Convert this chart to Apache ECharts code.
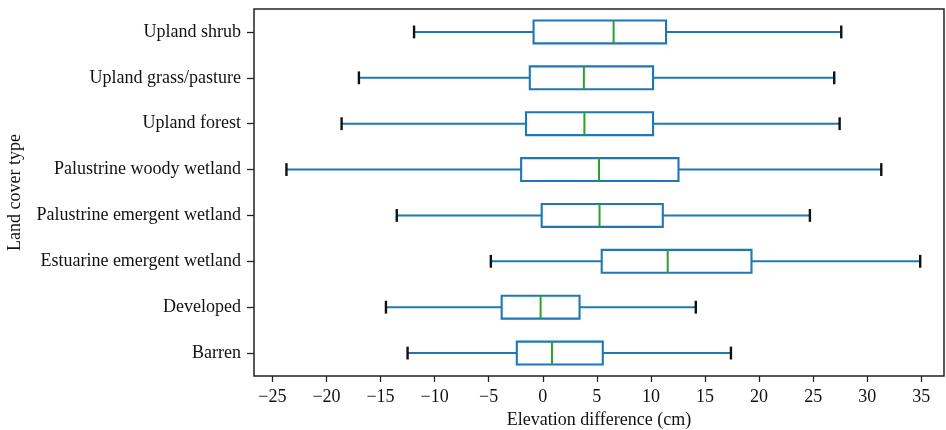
<!DOCTYPE html>
<html>
<head>
<meta charset="utf-8">
<script src="https://cdn.jsdelivr.net/npm/echarts@6/dist/echarts.min.js"></script>
<style>
  html, body { margin: 0; padding: 0; background: #fff; }
  #chart { width: 946px; height: 430px; }
</style>
</head>
<body>
<div id="chart"></div>
<script>
// categories, bottom to top
const categories = ['Barren', 'Developed', 'Estuarine emergent wetland', 'Palustrine emergent wetland',
  'Palustrine woody wetland', 'Upland forest', 'Upland grass/pasture', 'Upland shrub']
// whisker low, q1, median, q3, whisker high (cm)
const whiskerLow = [-12.5, -14.5, -4.8, -13.5, -23.7, -18.6, -17.0, -11.9]
const q1 = [-2.4, -3.8, 5.45, -0.1, -2.0, -1.55, -1.2, -0.85]
const median = [0.85, -0.2, 11.55, 5.25, 5.2, 3.85, 3.8, 6.55]
const q3 = [5.55, 3.4, 19.3, 11.1, 12.55, 10.2, 10.2, 11.4]
const whiskerHigh = [17.4, 14.15, 34.9, 24.7, 31.3, 27.45, 26.95, 27.6]
const xTicks = [-25, -20, -15, -10, -5, 0, 5, 10, 15, 20, 25, 30, 35]

const chart = echarts.init(document.getElementById('chart'))
const seriesData = categories.map((c, i) => [i, whiskerLow[i], q1[i], median[i], q3[i], whiskerHigh[i]])

const blue = '#1f77b4'
const green = '#2ca02c'
const font = '"Liberation Serif", "DejaVu Serif", serif'

function renderBox(params, api) {
    const idx = api.value(0)
    const lo = api.coord([api.value(1), idx])
    const a = api.coord([api.value(2), idx])
    const m = api.coord([api.value(3), idx])
    const b = api.coord([api.value(4), idx])
    const hi = api.coord([api.value(5), idx])
    const band = api.size([0, 1])[1]
    const h = band * 0.5
    const cap = band * 0.28
    const y = a[1]
    const line = (x1, y1, x2, y2, color, w) => ({
        type: 'line',
        shape: { x1, y1, x2, y2 },
        style: { stroke: color, lineWidth: w }
    })
    return {
        type: 'group',
        children: [
            line(lo[0], y, a[0], y, blue, 2.1),
            line(b[0], y, hi[0], y, blue, 2.1),
            {
                type: 'rect',
                shape: { x: a[0], y: y - h / 2, width: b[0] - a[0], height: h },
                style: { fill: 'none', stroke: blue, lineWidth: 2.1 }
            },
            line(m[0], y - h / 2, m[0], y + h / 2, green, 2),
            line(lo[0], y - cap / 2, lo[0], y + cap / 2, '#111', 2.4),
            line(hi[0], y - cap / 2, hi[0], y + cap / 2, '#111', 2.4)
        ]
    }
}

const option = {
    animation: false,
    grid: {
        left: 254, right: 2, top: 9, bottom: 54,
        outerBoundsMode: 'none',
        show: true, borderColor: '#222', borderWidth: 1.5, backgroundColor: '#fff'
    },
    xAxis: {
        type: 'value',
        min: -26.7,
        max: 37.1,
        name: 'Elevation difference (cm)',
        nameLocation: 'middle',
        nameGap: 34,
        nameTextStyle: { fontFamily: font, fontSize: 18, color: '#111' },
        axisLine: { show: false, onZero: false },
        splitLine: { show: false },
        axisTick: { show: true, length: 6, lineStyle: { color: '#222', width: 1.3 }, customValues: xTicks },
        axisLabel: {
            customValues: xTicks,
            fontFamily: font, fontSize: 18, color: '#111', margin: 12,
            formatter: v => String(v).replace('-', '\u2212')
        }
    },
    yAxis: {
        type: 'category',
        data: categories,
        name: 'Land cover type',
        nameLocation: 'middle',
        nameGap: 230,
        nameTextStyle: { fontFamily: font, fontSize: 18, color: '#111' },
        axisLine: { show: false, onZero: false },
        axisTick: { show: true, alignWithLabel: true, length: 7, lineStyle: { color: '#222', width: 1.3 } },
        axisLabel: { fontFamily: font, fontSize: 18, color: '#111', margin: 13 },
        splitLine: { show: false }
    },
    series: [{
        type: 'custom',
        renderItem: renderBox,
        encode: { x: [1, 2, 3, 4, 5], y: 0 },
        data: seriesData
    }]
}
chart.setOption(option)
</script>
</body>
</html>
